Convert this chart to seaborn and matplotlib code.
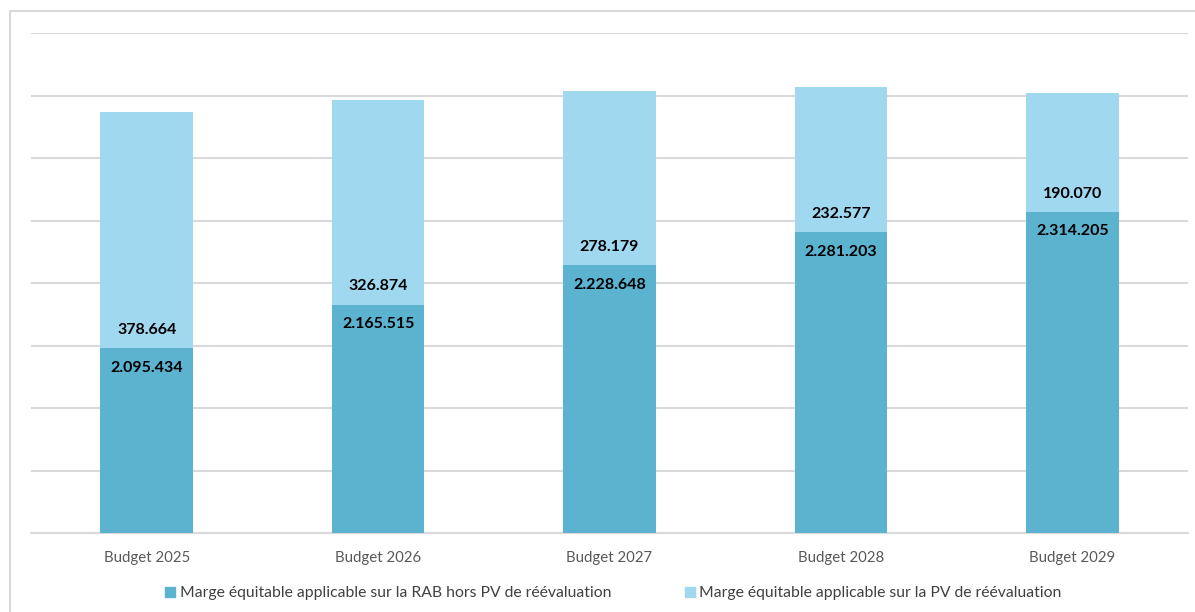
import matplotlib
matplotlib.use("Agg")
import matplotlib.pyplot as plt
import seaborn as sns
import pandas as pd
from matplotlib.patches import Rectangle
from matplotlib.lines import Line2D

categories = ["Budget 2025", "Budget 2026", "Budget 2027", "Budget 2028", "Budget 2029"]
rab_hors_pv = [2095434, 2165515, 2228648, 2281203, 2314205]
pv_reeval = [378664, 326874, 278179, 232577, 190070]
series_names = ["Marge équitable applicable sur la RAB hors PV de réévaluation",
                "Marge équitable applicable sur la PV de réévaluation"]

DARK = "#5BB3D0"
LIGHT = "#A0D8F0"
GRID = "#D9D9D9"

sns.set_theme(style="white")
plt.rcParams['font.family'] = ['Lato', 'DejaVu Sans']

def fmt(v):
    return f"{v:,}".replace(",", ".")

df = pd.DataFrame({"cat": categories, "bottom": rab_hors_pv,
                   "top": pv_reeval})
df["total"] = df["bottom"] + df["top"]

fig = plt.figure(figsize=(11.95, 6.12), dpi=100)
W, H = 1195, 612
ax = fig.add_axes([31 / W, (H - 533) / H, (1188 - 31) / W, (533 - 33) / H])

sns.barplot(data=df, x="cat", y="total", color=LIGHT, width=0.40,
            saturation=1, ax=ax, zorder=2, linewidth=0)
sns.barplot(data=df, x="cat", y="bottom", color=DARK, width=0.40,
            saturation=1, ax=ax, zorder=3, linewidth=0)

ax.set_ylim(1800000, 2600000)
ax.set_xlim(-0.5, 4.5)
ax.set_yticks(range(1800000, 2600001, 100000))
ax.yaxis.grid(True, color=GRID, linewidth=1.5)
ax.set_axisbelow(True)
ax.tick_params(axis="y", left=False, labelleft=False)
ax.tick_params(axis="x", bottom=False, colors="#595959", labelsize=10.8, pad=7)
ax.set_xlabel("")
ax.set_ylabel("")
for s in ["top", "right", "left"]:
    ax.spines[s].set_visible(False)
ax.spines["bottom"].set_color(GRID)
ax.spines["bottom"].set_linewidth(1.5)

for i, (b, t) in enumerate(zip(rab_hors_pv, pv_reeval)):
    ax.annotate(fmt(b), (i, b), xytext=(0, -14), textcoords="offset points",
                ha="center", va="center", fontsize=11.5, fontweight="bold",
                color="black", zorder=5)
    ax.annotate(fmt(t), (i, b), xytext=(0, 13), textcoords="offset points",
                ha="center", va="center", fontsize=11.5, fontweight="bold",
                color="black", zorder=5)

handles = [Line2D([], [], marker="s", linestyle="", markersize=7,
                  markerfacecolor=DARK, markeredgecolor=DARK),
           Line2D([], [], marker="s", linestyle="", markersize=7,
                  markerfacecolor=LIGHT, markeredgecolor=LIGHT)]
leg = fig.legend(handles, series_names, loc="center", ncol=2,
                 bbox_to_anchor=(0.512, (H - 593) / H), frameon=False,
                 fontsize=11.3, handletextpad=0.1, columnspacing=4.5,
                 handlelength=1.0)
for txt in leg.get_texts():
    txt.set_color("#404040")

fig.patches.append(Rectangle((10 / W, -0.1), 1.2, (H - 11) / H + 0.1,
                             transform=fig.transFigure, fill=False,
                             edgecolor=GRID, linewidth=1.5, zorder=0))

fig.savefig("out.png", dpi=100)
